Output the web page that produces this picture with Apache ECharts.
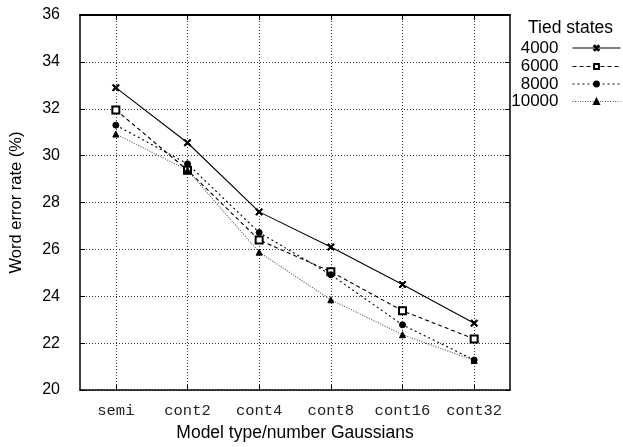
<!DOCTYPE html>
<html>
<head>
<meta charset="utf-8">
<script src="https://cdn.jsdelivr.net/npm/echarts@6/dist/echarts.min.js"></script>
<style>
  html, body { margin: 0; padding: 0; background: #fff; }
  #chart { width: 623px; height: 447px; }
</style>
</head>
<body>
<div id="chart"></div>
<script>
// model types on x axis
var models = ['semi', 'cont2', 'cont4', 'cont8', 'cont16', 'cont32'];
// word error rate (%) per number of tied states
var states4000 = [32.9, 30.55, 27.6, 26.1, 24.5, 22.85];
var states6000 = [31.95, 29.38, 26.4, 25.05, 23.38, 22.18];
var states8000 = [31.3, 29.65, 26.72, 24.92, 22.78, 21.28];
var states10000 = [30.92, 29.38, 25.88, 23.85, 22.36, 21.26];
var yTicks = [20, 22, 24, 26, 28, 30, 32, 34, 36];

var crossPath = 'path://M0,0.15L0.15,0L1,0.85L0.85,1Z M0.85,0L1,0.15L0.15,1L0,0.85Z';

var chart = echarts.init(document.getElementById('chart'));

function makeSeries(name, data, symbol, size, dash, color) {
    return {
        name: name,
        type: 'line',
        data: data,
        symbol: symbol,
        symbolSize: size,
        showSymbol: true,
        lineStyle: { color: color, width: 1.1, type: dash },
        itemStyle: { color: '#000', borderColor: '#000', borderWidth: 1 },
        emphasis: { disabled: true }
    };
}

function makeLegend(name, top) {
    return {
        data: [name],
        right: 2,
        top: top,
        orient: 'vertical',
        align: 'right',
        itemWidth: 48,
        itemHeight: 6,
        padding: 0,
        selectedMode: false,
        lineStyle: { width: 1 },
        textStyle: { fontFamily: 'Liberation Sans', fontSize: 17, lineHeight: 18, color: '#000', padding: [0, 9, 0, 0] }
    };
}

var option = {
    backgroundColor: '#fff',
    animation: false,
    title: {
        text: 'Tied states',
        right: 10,
        top: 19,
        padding: 0,
        textStyle: { fontFamily: 'Liberation Sans', fontSize: 17.5, fontWeight: 'normal', color: '#000' }
    },
    legend: [
        makeLegend('4000', 39),
        makeLegend('6000', 57.5),
        makeLegend('8000', 75),
        makeLegend('10000', 92.5)
    ],
    grid: { left: 80, right: 113, top: 15, bottom: 57, show: false },
    xAxis: [
        {
            type: 'category',
            data: models,
            boundaryGap: true,
            name: 'Model type/number Gaussians',
            nameLocation: 'middle',
            nameGap: 32,
            nameTextStyle: { fontFamily: 'Liberation Sans', fontSize: 17.5, color: '#000' },
            axisLine: { show: true, lineStyle: { color: '#000', width: 1.5 } },
            axisTick: { show: true, inside: true, length: 5, interval: 0, alignWithLabel: true, lineStyle: { color: '#000' } },
            axisLabel: { interval: 0, hideOverlap: false, fontFamily: 'Liberation Mono', fontSize: 15.5, color: '#222', margin: 13 },
            splitLine: { show: true, interval: 0, alignWithLabel: true, lineStyle: { color: '#333', width: 1, type: [1, 2] } }
        },
        {
            type: 'category',
            data: models,
            position: 'top',
            boundaryGap: true,
            axisLine: { show: true, lineStyle: { color: '#000', width: 2 } },
            axisTick: { show: true, inside: true, length: 5, interval: 0, alignWithLabel: true, lineStyle: { color: '#000' } },
            axisLabel: { show: false },
            splitLine: { show: false }
        }
    ],
    yAxis: [
        {
            type: 'value',
            min: yTicks[0],
            max: yTicks[yTicks.length - 1],
            interval: 2,
            name: 'Word error rate (%)',
            nameLocation: 'middle',
            nameGap: 55,
            nameTextStyle: { fontFamily: 'Liberation Sans', fontSize: 16.5, color: '#000' },
            axisLine: { show: true, lineStyle: { color: '#000', width: 1.5 } },
            axisTick: { show: true, inside: true, length: 5, lineStyle: { color: '#000' } },
            axisLabel: { fontFamily: 'Liberation Sans', fontSize: 16, color: '#000', margin: 20 },
            splitLine: { show: true, lineStyle: { color: '#333', width: 1, type: [1, 2] } }
        },
        {
            type: 'value',
            position: 'right',
            min: yTicks[0],
            max: yTicks[yTicks.length - 1],
            interval: 2,
            axisLine: { show: true, lineStyle: { color: '#000', width: 1.5 } },
            axisTick: { show: true, inside: true, length: 5, lineStyle: { color: '#000' } },
            axisLabel: { show: false },
            splitLine: { show: false }
        }
    ],
    series: [
        makeSeries('4000', states4000, crossPath, 7, 'solid', '#000'),
        makeSeries('6000', states6000, 'emptyRect', 7, [4, 3], '#000'),
        makeSeries('8000', states8000, 'circle', 6, [2, 3], '#000'),
        makeSeries('10000', states10000, 'triangle', 6, [1, 1.5], '#555')
    ]
};

chart.setOption(option);
</script>
</body>
</html>
